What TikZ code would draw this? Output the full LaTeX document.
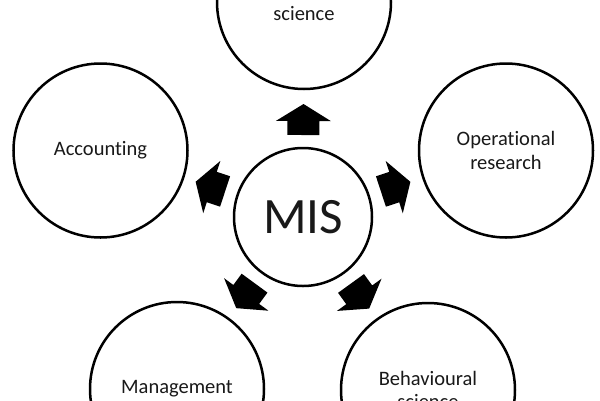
\documentclass[tikz,border=0pt]{standalone}
\usepackage{fontspec}
\setmainfont{Carlito}[Ligatures=NoCommon]
\usetikzlibrary{calc}
\definecolor{txt}{RGB}{25,25,25}
\newcommand\blockarr[1]{%
  \coordinate (#1-t) at ($(mis.center)!82pt!(#1.center)$);
  \coordinate (#1-b) at ($(mis.center)!96pt!(#1.center)$);
  \coordinate (#1-h) at ($(mis.center)!113pt!(#1.center)$);
  \fill[blk] ($(#1-t)!16pt!90:(#1.center)$) -- ($(#1-b)!16pt!90:(#1.center)$)
    -- ($(#1-b)!27.5pt!90:(#1.center)$) -- (#1-h)
    -- ($(#1-b)!27.5pt!-90:(#1.center)$) -- ($(#1-b)!16pt!-90:(#1.center)$)
    -- ($(#1-t)!16pt!-90:(#1.center)$) -- cycle;}
\begin{document}
\begin{tikzpicture}[x=1pt,y=-1pt,
  disc/.style={circle,draw=black,line width=2.5pt,inner sep=0pt,minimum size=174pt,
    font=\fontsize{20.5}{23.5}\selectfont,text=txt,align=center},
  blk/.style={fill=black,draw=none}]
\useasboundingbox (0,0) rectangle (600,400);
\clip (0,0) rectangle (600,400);
\fill[white] (0,0) rectangle (600,400);
\node[disc,minimum size=138pt,font=\fontsize{51}{60}\selectfont] (mis) at (303,217) {MIS};
\node[disc] (cs) at (304,2) {Computer\\science};
\node[disc] (acc) at (100.5,150.5) {Accounting};
\node[disc] (op) at (506,150.5) {Operational\\research};
\node[disc] (mgt) at (177,389) {Management};
\node[disc] (beh) at (428,390) {Behavioural\\science};
\blockarr{cs}
\blockarr{acc}
\blockarr{op}
\blockarr{mgt}
\blockarr{beh}
\end{tikzpicture}
\end{document}
